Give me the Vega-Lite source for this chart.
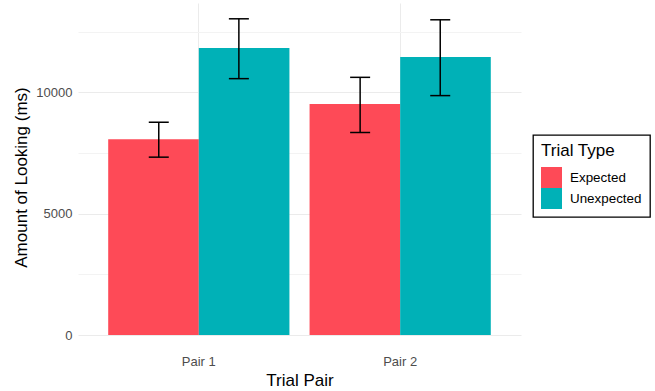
{
  "$schema": "https://vega.github.io/schema/vega-lite/v6.json",
  "width": 443,
  "height": 332,
  "autosize": {"type": "none"},
  "padding": {"left": 78, "top": 3, "right": 134, "bottom": 56},
  "config": {
    "view": {"stroke": null},
    "font": "Liberation Sans"
  },
  "data": {
    "values": [
      {"pair": "Pair 1", "type": "Expected", "mean": 8068, "lo": 7328, "hi": 8767},
      {"pair": "Pair 1", "type": "Unexpected", "mean": 11825, "lo": 10563, "hi": 13029},
      {"pair": "Pair 2", "type": "Expected", "mean": 9523, "lo": 8344, "hi": 10617},
      {"pair": "Pair 2", "type": "Unexpected", "mean": 11455, "lo": 9864, "hi": 12988}
    ]
  },
  "encoding": {
    "x": {
      "field": "pair",
      "type": "nominal",
      "scale": {"paddingInner": 0.1, "paddingOuter": 0.15},
      "axis": {
        "title": "Trial Pair",
        "labelAngle": 0,
        "domain": false,
        "ticks": false,
        "grid": true,
        "gridColor": "#EBEBEB",
        "gridWidth": 1,
        "bandPosition": 0.5,
        "labelFontSize": 13,
        "labelColor": "#4D4D4D",
        "labelPadding": 20,
        "titleFontSize": 17,
        "titleFontWeight": "normal",
        "titleColor": "#000000",
        "titlePadding": 4
      }
    }
  },
  "layer": [
    {
      "mark": {"type": "bar"},
      "encoding": {
        "xOffset": {"field": "type", "type": "nominal", "scale": {"paddingInner": 0, "paddingOuter": 0}},
        "y": {
          "field": "mean",
          "type": "quantitative",
          "scale": {"domain": [0, 13680], "nice": false, "zero": true},
          "axis": {
            "title": "Amount of Looking (ms)",
            "values": [0, 2500, 5000, 7500, 10000, 12500],
            "labelExpr": "datum.value % 5000 === 0 ? format(datum.value, 'd') : ''",
            "domain": false,
            "ticks": false,
            "grid": true,
            "gridColor": {"condition": {"test": "datum.value % 5000 === 0", "value": "#EBEBEB"}, "value": "#F3F3F3"},
            "gridWidth": 1,
            "labelFontSize": 13,
            "labelColor": "#4D4D4D",
            "labelPadding": 6,
            "titleFontSize": 17,
            "titleFontWeight": "normal",
            "titleColor": "#000000",
            "titlePadding": 5,
            "titleY": 174
          }
        },
        "color": {
          "field": "type",
          "type": "nominal",
          "scale": {"domain": ["Expected", "Unexpected"], "range": ["#FE4A57", "#00B1B7"]},
          "legend": {
            "title": "Trial Type",
            "orient": "none",
            "legendX": 455,
            "legendY": 132,
            "strokeColor": "#000000",
            "padding": 8,
            "titleFontSize": 17,
            "titleFontWeight": "normal",
            "titleColor": "#000000",
            "titlePadding": 7,
            "labelFontSize": 13.4,
            "labelColor": "#000000",
            "labelOffset": 8,
            "symbolType": "square",
            "symbolSize": 441,
            "symbolStrokeWidth": 0,
            "symbolOpacity": 1,
            "rowPadding": 0,
            "encode": {"legend": {"update": {"strokeWidth": {"value": 1.3}}}}
          }
        }
      }
    },
    {
      "encoding": {
        "xOffset": {"field": "type", "type": "nominal", "scale": {"paddingInner": 0, "paddingOuter": 0.13125}}
      },
      "layer": [
        {
          "mark": {"type": "rule", "color": "#000000", "strokeWidth": 1.5},
          "encoding": {
            "y": {"field": "lo", "type": "quantitative"},
            "y2": {"field": "hi"}
          }
        },
        {
          "mark": {"type": "tick", "color": "#000000", "thickness": 1.5, "size": 20, "opacity": 1},
          "encoding": {
            "y": {"field": "lo", "type": "quantitative"}
          }
        },
        {
          "mark": {"type": "tick", "color": "#000000", "thickness": 1.5, "size": 20, "opacity": 1},
          "encoding": {
            "y": {"field": "hi", "type": "quantitative"}
          }
        }
      ]
    }
  ],
  "resolve": {"scale": {"xOffset": "independent"}}
}
